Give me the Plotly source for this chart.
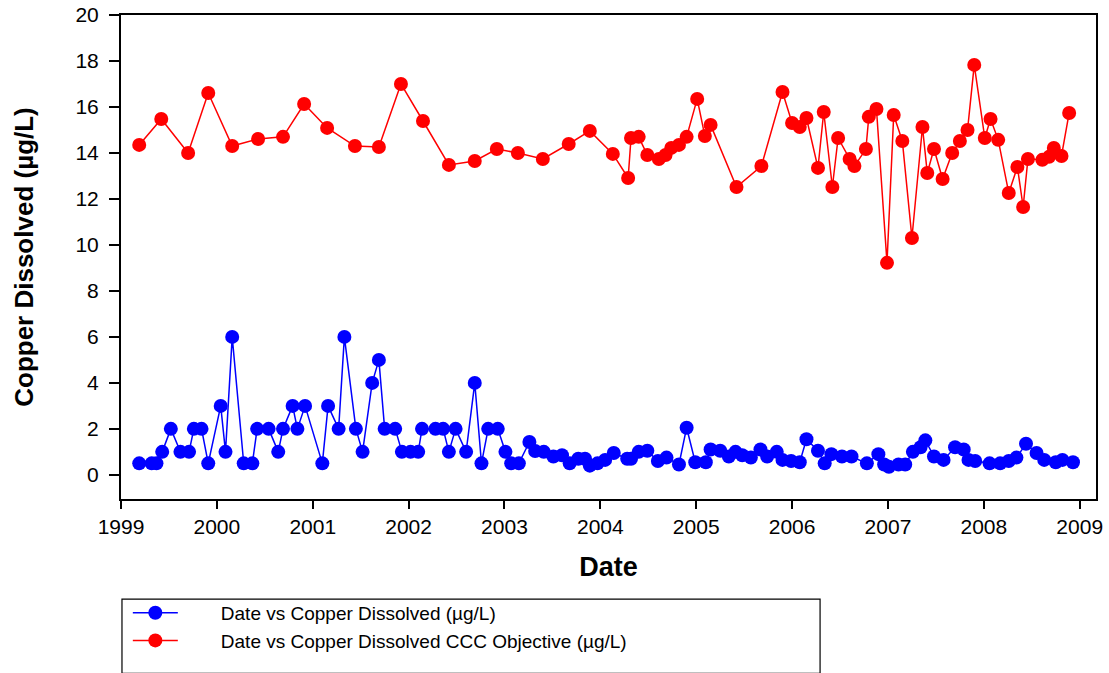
import plotly.graph_objects as go

# sample dates as decimal years
cu_years = [
    1999.19, 1999.32, 1999.37, 1999.43, 1999.52, 1999.62, 1999.71, 1999.76, 1999.84, 1999.91,
    2000.04, 2000.09, 2000.16, 2000.28, 2000.37, 2000.42, 2000.54, 2000.64, 2000.69, 2000.79,
    2000.84, 2000.92, 2001.10, 2001.16, 2001.27, 2001.33, 2001.45, 2001.52, 2001.62, 2001.69,
    2001.75, 2001.86, 2001.93, 2002.02, 2002.10, 2002.14, 2002.28, 2002.36, 2002.42, 2002.49,
    2002.60, 2002.69, 2002.76, 2002.83, 2002.93, 2003.01, 2003.07, 2003.15, 2003.26, 2003.32,
    2003.41, 2003.51, 2003.60, 2003.68, 2003.77, 2003.84, 2003.89, 2003.97, 2004.05, 2004.14,
    2004.28, 2004.32, 2004.40, 2004.49, 2004.60, 2004.69, 2004.82, 2004.90, 2004.99, 2005.10,
    2005.15, 2005.25, 2005.34, 2005.41, 2005.48, 2005.57, 2005.67, 2005.74, 2005.84, 2005.90,
    2005.99, 2006.08, 2006.15, 2006.27, 2006.34, 2006.41, 2006.52, 2006.62, 2006.78, 2006.90,
    2006.96, 2007.01, 2007.11, 2007.18, 2007.26, 2007.34, 2007.39, 2007.48, 2007.58, 2007.70,
    2007.79, 2007.84, 2007.91, 2008.06, 2008.17, 2008.26, 2008.34, 2008.44, 2008.55, 2008.63,
    2008.75, 2008.82, 2008.93,
]
cu_values = [
    0.5, 0.5, 0.5, 1, 2, 1, 1, 2, 2, 0.5,
    3, 1, 6, 0.5, 0.5, 2, 2, 1, 2, 3,
    2, 3, 0.5, 3, 2, 6, 2, 1, 4, 5,
    2, 2, 1, 1, 1, 2, 2, 2, 1, 2,
    1, 4, 0.5, 2, 2, 1, 0.5, 0.5, 1.43, 1.04,
    1.0, 0.8, 0.85, 0.5, 0.7, 0.7, 0.4, 0.5, 0.65, 0.95,
    0.7, 0.7, 1.0, 1.05, 0.6, 0.75, 0.45, 2.05, 0.55, 0.55,
    1.1, 1.05, 0.8, 1.0, 0.85, 0.75, 1.1, 0.8, 1.0, 0.65,
    0.6, 0.55, 1.55, 1.05, 0.5, 0.9, 0.8, 0.8, 0.5, 0.9,
    0.45, 0.35, 0.45, 0.45, 1.0, 1.2, 1.5, 0.8, 0.65, 1.2,
    1.1, 0.65, 0.6, 0.5, 0.5, 0.6, 0.75, 1.35, 0.95, 0.65,
    0.55, 0.65, 0.55,
]

ccc_years = [
    1999.19, 1999.42, 1999.70, 1999.91, 2000.16, 2000.43, 2000.69, 2000.91, 2001.15, 2001.44,
    2001.69, 2001.92, 2002.15, 2002.42, 2002.69, 2002.92, 2003.14, 2003.40, 2003.67, 2003.89,
    2004.13, 2004.29, 2004.32, 2004.40, 2004.49, 2004.61, 2004.68, 2004.74, 2004.82, 2004.90,
    2005.01, 2005.09, 2005.15, 2005.42, 2005.68, 2005.90, 2006.00, 2006.08, 2006.15, 2006.27,
    2006.33, 2006.42, 2006.48, 2006.60, 2006.65, 2006.77, 2006.80, 2006.88, 2006.99, 2007.06,
    2007.15, 2007.25, 2007.36, 2007.41, 2007.48, 2007.57, 2007.67, 2007.75, 2007.83, 2007.90,
    2008.01, 2008.07, 2008.15, 2008.26, 2008.35, 2008.41, 2008.46, 2008.61, 2008.68, 2008.73,
    2008.81, 2008.89,
]
ccc_values = [
    14.35, 15.48, 14.0, 16.61, 14.3, 14.61, 14.7, 16.13, 15.09, 14.3,
    14.26, 17.0, 15.39, 13.48, 13.65, 14.17, 14.0, 13.74, 14.39, 14.96,
    13.96, 12.91, 14.65, 14.7, 13.91, 13.74, 13.91, 14.22, 14.35, 14.7,
    16.35, 14.74, 15.22, 12.52, 13.43, 16.65, 15.3, 15.13, 15.52, 13.35,
    15.78, 12.52, 14.65, 13.74, 13.43, 14.17, 15.57, 15.91, 9.22, 15.65,
    14.52, 10.3, 15.13, 13.13, 14.17, 12.87, 14.0, 14.52, 15.0, 17.83,
    14.65, 15.48, 14.57, 12.26, 13.39, 11.65, 13.74, 13.7, 13.83, 14.22,
    13.87, 15.74,
]

font = "Liberation Sans, Arial, sans-serif"
gap = "\u2003\u2003"  # pushes legend text away from the symbol

fig = go.Figure()
fig.add_trace(go.Scatter(
    x=cu_years, y=cu_values, mode="lines+markers",
    name=gap + "Date vs Copper Dissolved (µg/L)",
    line=dict(color="#0000ff", width=1.5),
    marker=dict(color="#0000ff", size=14),
))
fig.add_trace(go.Scatter(
    x=ccc_years, y=ccc_values, mode="lines+markers",
    name=gap + "Date vs Copper Dissolved CCC Objective (µg/L)",
    line=dict(color="#ff0000", width=1.5),
    marker=dict(color="#ff0000", size=14),
))

# legend frame
fig.add_shape(type="rect", xref="paper", yref="paper",
              x0=0.001, x1=0.717, y0=-0.36, y1=-0.207,
              line=dict(color="black", width=1.2), fillcolor="rgba(0,0,0,0)")

fig.update_layout(
    width=1109, height=673,
    margin=dict(l=121, r=13, t=15, b=174),
    paper_bgcolor="white", plot_bgcolor="white",
    font=dict(family=font, size=21, color="black"),
    showlegend=True,
    legend=dict(x=0.007, y=-0.196, xanchor="left", yanchor="top",
                bgcolor="rgba(0,0,0,0)", borderwidth=0,
                font=dict(size=19), itemwidth=45, tracegroupgap=0),
)
fig.update_xaxes(
    range=[1999, 2009.17], tick0=1999, dtick=1, tickformat="d",
    showgrid=False, zeroline=False, automargin=False,
    showline=True, linecolor="black", linewidth=2, mirror=True,
    ticks="outside", ticklen=8, tickwidth=1.5, tickcolor="black",
    title=dict(text="<b>Date</b>", font=dict(size=27), standoff=20),
)
fig.update_yaxes(
    range=[-1.05, 20], tick0=0, dtick=2,
    showgrid=False, zeroline=False, automargin=False,
    showline=True, linecolor="black", linewidth=2, mirror=True,
    ticks="outside", ticklen=10, tickwidth=1.5, tickcolor="black",
    ticklabelstandoff=6,
    title=dict(text="<b>Copper Dissolved (µg/L)</b>", font=dict(size=26), standoff=34),
)

# drop the browser's default 8px body margin so the figure fills the window
fig.write_html("out.html", config={"displayModeBar": False},
               post_script="document.body.style.margin='0px';")
